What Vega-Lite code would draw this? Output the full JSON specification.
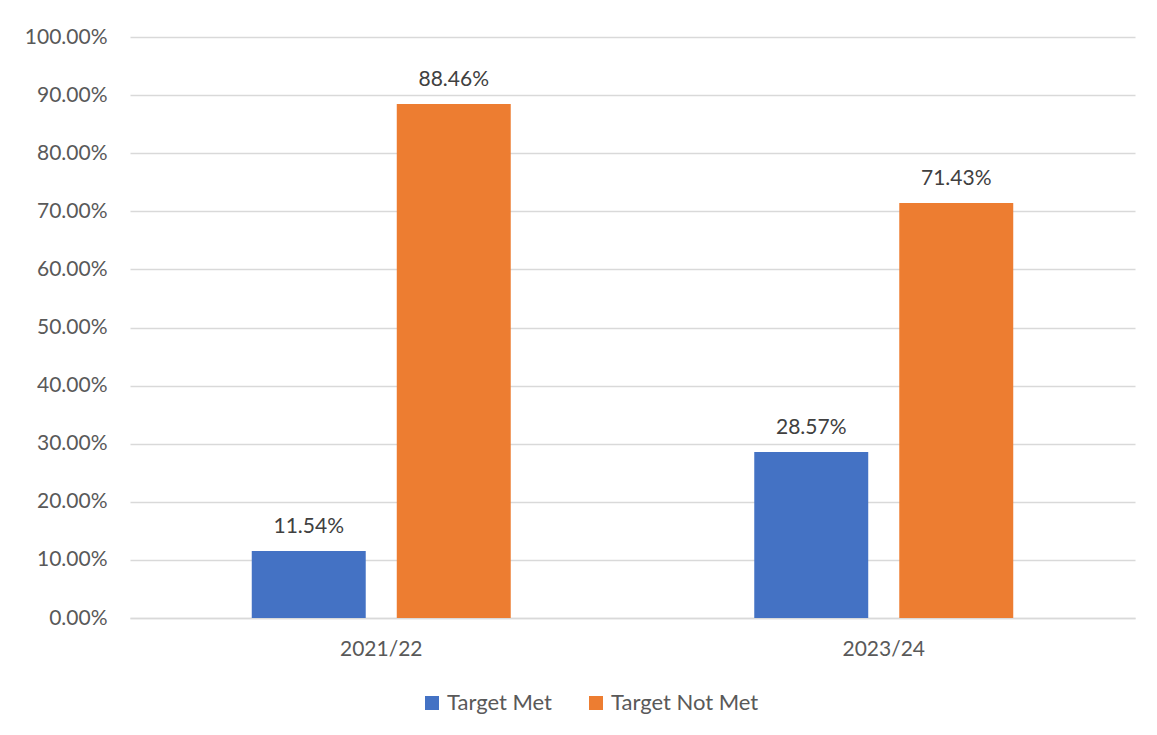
{
  "$schema": "https://vega.github.io/schema/vega-lite/v6.json",
  "width": 1005,
  "height": 581,
  "autosize": {"type": "none"},
  "padding": {"left": 130, "top": 37, "right": 22, "bottom": 117},
  "background": "white",
  "config": {
    "view": {"stroke": null},
    "font": "Lato",
    "axis": {"labelFont": "Lato", "labelColor": "#595959", "labelFontSize": 21},
    "legend": {"labelFont": "Lato", "labelColor": "#595959", "labelFontSize": 22}
  },
  "data": {
    "values": [
      {"year": "2021/22", "status": "Target Met", "value": 0.1154},
      {"year": "2021/22", "status": "Target Not Met", "value": 0.8846},
      {"year": "2023/24", "status": "Target Met", "value": 0.2857},
      {"year": "2023/24", "status": "Target Not Met", "value": 0.7143}
    ]
  },
  "encoding": {
    "x": {
      "field": "year", "type": "nominal",
      "scale": {"paddingInner": 0.4846, "paddingOuter": 0.2423},
      "axis": {"title": null, "labelAngle": 0, "ticks": false, "domainColor": "#d9d9d9", "domainWidth": 1.5, "labelPadding": 20}
    },
    "xOffset": {"field": "status", "type": "nominal", "scale": {"paddingInner": 0.214, "paddingOuter": 0}},
    "y": {
      "field": "value", "type": "quantitative",
      "scale": {"domain": [0, 1]},
      "axis": {"title": null, "format": ".2%", "values": [0,0.1,0.2,0.3,0.4,0.5,0.6,0.7,0.8,0.9,1], "labelOverlap": false, "domain": false, "ticks": false, "gridColor": "#d9d9d9", "gridWidth": 1.5, "labelPadding": 23}
    }
  },
  "layer": [
    {
      "mark": {"type": "bar"},
      "encoding": {
        "color": {
          "field": "status", "type": "nominal",
          "scale": {"domain": ["Target Met", "Target Not Met"], "range": ["#4472c4", "#ed7d31"]},
          "legend": {"title": null, "orient": "none", "direction": "horizontal", "legendX": 291, "legendY": 655, "symbolType": "square", "symbolSize": 196, "symbolStrokeWidth": 0, "symbolOpacity": 1, "labelOffset": 4, "columnPadding": 32, "padding": 0}
        }
      }
    },
    {
      "mark": {"type": "text", "baseline": "alphabetic", "dy": -18, "fontSize": 21, "color": "#404040", "font": "Lato"},
      "encoding": {"text": {"field": "value", "type": "quantitative", "format": ".2%"}}
    }
  ]
}
